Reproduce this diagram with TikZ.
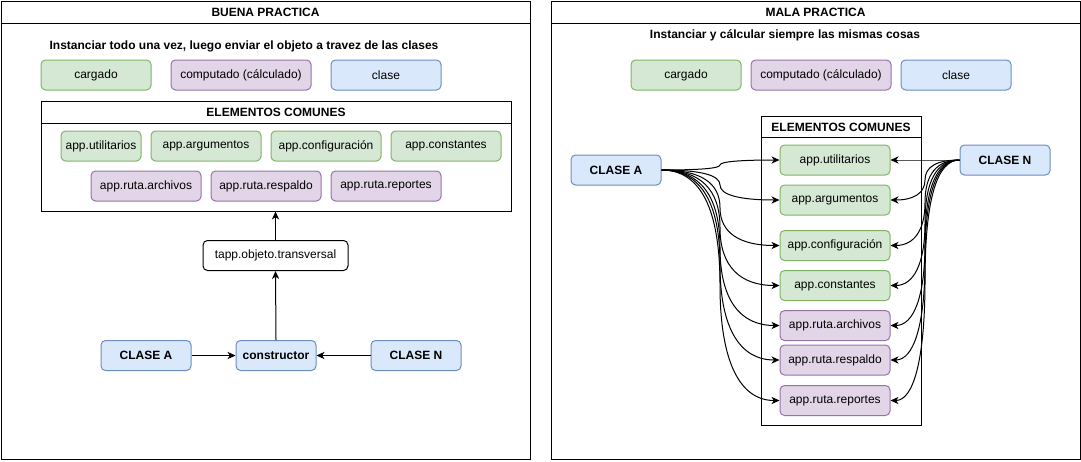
\documentclass[tikz,border=0pt]{standalone}
\usepackage{fontspec}
\setmainfont{Liberation Sans}
\usetikzlibrary{arrows.meta}
\definecolor{gfill}{HTML}{D5E8D4}
\definecolor{gline}{HTML}{82B366}
\definecolor{pfill}{HTML}{E1D5E7}
\definecolor{pline}{HTML}{9673A6}
\definecolor{bfill}{HTML}{DAE8FC}
\definecolor{bline}{HTML}{6C8EBF}
\begin{document}
\begin{tikzpicture}[x=0.75pt,y=-0.75pt,
  line width=0.75pt,
  txt/.style={font=\fontsize{9}{11}\selectfont},
  btxt/.style={font=\fontsize{9}{11}\selectfont\bfseries},
  base/.style={txt, rounded corners=3.4pt, draw, inner sep=0pt, minimum height=22.5pt, minimum width=82.5pt},
  green/.style={base, fill=gfill, draw=gline},
  purple/.style={base, fill=pfill, draw=pline},
  blue/.style={base, fill=bfill, draw=bline},
  plain/.style={base, fill=white, draw=black},
  frame/.style={draw=black, inner sep=0pt, fill=none},
  arr/.style={-{Stealth[length=6pt,width=5.4pt,inset=1.8pt]}, line width=0.75pt}
]
\useasboundingbox (0,0) rectangle (1081,461);

% ---------------- left panel ----------------
\node[frame, minimum width=396.75pt, minimum height=343.5pt] (lp) at (265.5,230) {};
\draw (lp.north west) ++(0,23) coordinate (lps) -- (lps -| lp.east);
\node[btxt] (lpt) at (265.5,12.5) {BUENA PRACTICA};
\node[btxt] (lpd) at (244,46.5) {Instanciar todo una vez, luego enviar el objeto a travez de las clases};

\node[green] (lg1) at (96,75) {cargado};
\node[purple, minimum width=105pt] (lg2) at (241,75) {computado (cálculado)};
\node[blue] (lg3) at (386,75) {clase};

\node[frame, minimum width=352.5pt, minimum height=82.5pt] (ec1) at (276,156) {};
\draw (ec1.north west) ++(0,23) coordinate (ec1s) -- (ec1s -| ec1.east);
\node[btxt] (ec1t) at (276,112.5) {ELEMENTOS COMUNES};

\node[green, minimum width=60pt] (l1) at (101,146) {app.utilitarios};
\node[green] (l2) at (206,146) {app.argumentos};
\node[green] (l3) at (326,146) {app.configuración};
\node[green] (l4) at (446,146) {app.constantes};
\node[purple] (l5) at (146,186) {app.ruta.archivos};
\node[purple] (l6) at (266,186) {app.ruta.respaldo};
\node[purple] (l7) at (386,186) {app.ruta.reportes};

\node[plain, minimum width=108.75pt] (tapp) at (275.5,255.5) {tapp.objeto.transversal};
\node[blue, btxt, minimum width=60pt] (ctor) at (276,355.5) {constructor};
\node[blue, btxt, minimum width=67.5pt] (ca1) at (146,355.5) {CLASE A};
\node[blue, btxt, minimum width=67.5pt] (cn1) at (416,355.5) {CLASE N};

\draw[arr] (ca1.east) -- (ctor.west);
\draw[arr] (cn1.west) -- (ctor.east);
\draw[arr] (ctor.north) -- (tapp.south);
\draw[arr] (tapp.north) -- (tapp.north |- ec1.south);

% ---------------- right panel ----------------
\node[frame, minimum width=396.75pt, minimum height=343.5pt] (rp) at (815.5,230) {};
\draw (rp.north west) ++(0,23) coordinate (rps) -- (rps -| rp.east);
\node[btxt] (rpt) at (815.5,12.5) {MALA PRACTICA};
\node[btxt] (rpd) at (785,35) {Instanciar y cálcular siempre las mismas cosas};

\node[green] (rg1) at (686,75) {cargado};
\node[purple, minimum width=105pt] (rg2) at (821,75) {computado (cálculado)};
\node[blue] (rg3) at (956,75) {clase};

\node[frame, minimum width=120pt, minimum height=231.75pt] (ec2) at (841,270.5) {};
\draw (ec2.north west) ++(0,22) coordinate (ec2s) -- (ec2s -| ec2.east);
\node[btxt] (ec2t) at (841,127) {ELEMENTOS COMUNES};

\node[green] (r1) at (835,160) {app.utilitarios};
\node[green] (r2) at (835,200) {app.argumentos};
\node[green] (r3) at (835,245.5) {app.configuración};
\node[green] (r4) at (835,285.5) {app.constantes};
\node[purple] (r5) at (835,325.5) {app.ruta.archivos};
\node[purple] (r6) at (835,360) {app.ruta.respaldo};
\node[purple] (r7) at (835,400.5) {app.ruta.reportes};

\node[blue, btxt, minimum width=67.5pt] (ca2) at (616,170) {CLASE A};
\node[blue, btxt, minimum width=67.5pt] (cn2) at (1005,160) {CLASE N};

\foreach \t/\y in {r1/160,r2/200,r3/245.5,r4/285.5,r5/325.5,r6/360,r7/400.5}{
  \pgfmathsetmacro\ma{(170+\y)/2}
  \pgfmathsetmacro\mb{(160+\y)/2}
  \draw[arr] (ca2.east)
     .. controls (700.3,170) and (720,{\ma-2/3*(\ma-170)}) .. (720,\ma)
     .. controls (720,{\ma+2/3*(\y-\ma)}) and (740,\y) .. (\t.west);
  \draw[arr] (cn2.west)
     .. controls (936.7,160) and (925,{\mb-2/3*(\mb-160)}) .. (925,\mb)
     .. controls (925,{\mb+2/3*(\y-\mb)}) and (913.3,\y) .. (\t.east);
}
\end{tikzpicture}
\end{document}
